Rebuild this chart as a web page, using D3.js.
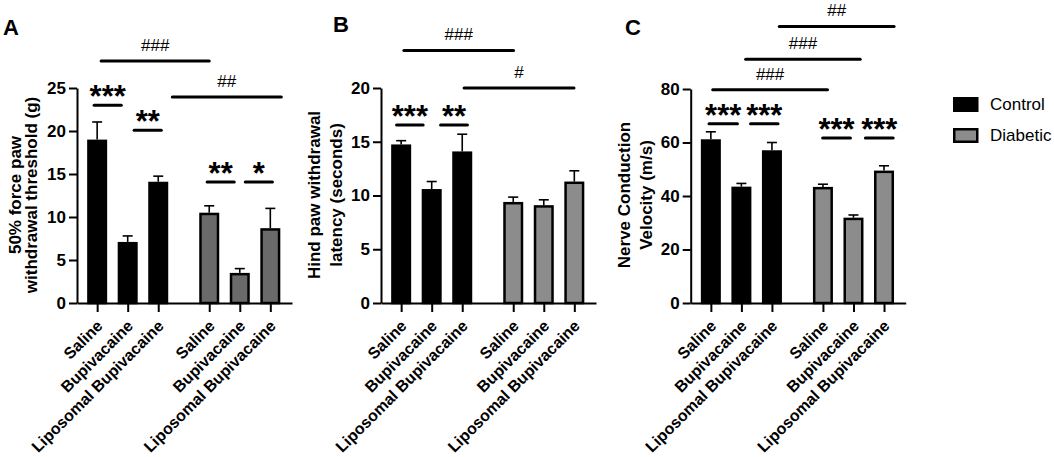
<!DOCTYPE html>
<html>
<head>
<meta charset="utf-8">
<script src="https://cdn.jsdelivr.net/npm/d3@7"></script>
<style>
  body { margin: 0; background: #fff; }
  text { font-family: "Liberation Sans", Arial, Helvetica, sans-serif; }
</style>
</head>
<body>
<div id="chart"></div>
<script>
// data
var groups = ["Control", "Diabetic"];
var treatments = ["Saline", "Bupivacaine", "Liposomal Bupivacaine"];
var barGroup = [0, 0, 0, 1, 1, 1];
var slots = [0, 1, 2, 3.67, 4.67, 5.67];

var thresholdMean = [19.0, 7.1, 14.1, 10.5, 3.5, 8.7];
var thresholdSem = [2.05, 0.7, 0.65, 0.8, 0.5, 2.3];
var latencyMean = [14.75, 10.6, 14.1, 9.4, 9.1, 11.3];
var latencySem = [0.35, 0.7, 1.6, 0.45, 0.5, 1.0];
var ncvMean = [61.2, 43.5, 57.1, 43.4, 31.9, 49.5];
var ncvSem = [2.8, 1.2, 2.9, 1.0, 1.0, 1.8];

var ticksA = [0, 5, 10, 15, 20, 25];
var ticksB = [0, 5, 10, 15, 20];
var ticksC = [0, 20, 40, 60, 80];

// significance marks: label, start/end slot, height in data units
var sigA = [
    {label: "***", x1: -0.1, x2: 0.79, level: 23.0},
    {label: "**", x1: 1.21, x2: 2.1, level: 20.1},
    {label: "**", x1: 3.6, x2: 4.49, level: 14.07},
    {label: "*", x1: 4.85, x2: 5.74, level: 14.07},
    {label: "###", x1: 0.13, x2: 3.67, level: 28.14},
    {label: "##", x1: 2.46, x2: 6.03, level: 23.95}
];
var sigB = [
    {label: "***", x1: -0.15, x2: 0.72, level: 16.56},
    {label: "**", x1: 1.29, x2: 2.17, level: 16.56},
    {label: "###", x1: 0.09, x2: 3.68, level: 23.5},
    {label: "#", x1: 2.06, x2: 5.66, level: 20.0}
];
var sigC = [
    {label: "***", x1: -0.06, x2: 0.87, level: 67.0},
    {label: "***", x1: 1.3, x2: 2.2, level: 67.0},
    {label: "***", x1: 3.66, x2: 4.57, level: 61.7},
    {label: "***", x1: 5.06, x2: 5.97, level: 61.7},
    {label: "###", x1: 0.06, x2: 3.82, level: 79.7},
    {label: "###", x1: 1.14, x2: 4.89, level: 91.1},
    {label: "##", x1: 2.24, x2: 6.0, level: 103.4}
];

var svg = d3.select("#chart")
    .append("svg")
    .attr("width", 1054)
    .attr("height", 457);

svg.append("rect").attr("width", 1054).attr("height", 457).style("fill", "#fff");

function drawPanel(p) {
    var xScale = d3.scaleLinear().domain([-0.66, 6.38]).range([p.left, p.left + 215]);
    var yScale = d3.scaleLinear().domain([0, p.max]).range([303, p.top]);

    // panel letter
    svg.append("text")
        .attr("x", p.letterX).attr("y", p.letterY)
        .style("font-size", "22px").style("font-weight", "bold")
        .text(p.letter);

    // y label, two lines
    p.ylabel.forEach(function(t, i) {
        svg.append("text")
            .attr("text-anchor", "middle")
            .attr("transform", "translate(" + p.ylabelX[i] + ",195)rotate(-90)")
            .style("font-size", "17px").style("font-weight", "bold")
            .text(t);
    });

    // bars
    svg.append("g").selectAll("rect")
        .data(p.mean)
        .enter()
        .append("rect")
        .attr("x", function(d, i) { return xScale(slots[i]) - 8.75; })
        .attr("y", function(d) { return yScale(d) + 1.25; })
        .attr("width", 17.5)
        .attr("height", function(d) { return yScale(0) - yScale(d) - 1.25; })
        .style("fill", function(d, i) { return barGroup[i] == 0 ? "#000" : p.gray; })
        .style("stroke", "#000")
        .style("stroke-width", 2.5);

    // error bars
    var err = svg.append("g").style("stroke", "#000").style("stroke-width", 1.6);
    p.mean.forEach(function(m, i) {
        var cx = xScale(slots[i]);
        err.append("line")
            .attr("x1", cx).attr("x2", cx)
            .attr("y1", yScale(m)).attr("y2", yScale(m + p.sem[i]));
        err.append("line")
            .attr("x1", cx - 5).attr("x2", cx + 5)
            .attr("y1", yScale(m + p.sem[i])).attr("y2", yScale(m + p.sem[i]));
    });

    // axes
    var yAxis = svg.append("g")
        .attr("transform", "translate(" + p.left + ",0)")
        .call(d3.axisLeft(yScale).tickValues(p.ticks).tickSize(8).tickSizeOuter(0).tickPadding(3));
    var xAxis = svg.append("g")
        .attr("transform", "translate(0," + yScale(0) + ")")
        .call(d3.axisBottom(xScale).tickValues(slots).tickSize(9).tickSizeOuter(0)
            .tickFormat(function(d, i) { return treatments[i % 3]; }));

    [yAxis, xAxis].forEach(function(a) {
        a.selectAll("path, line").style("stroke", "#000").style("stroke-width", 2);
        a.selectAll("text")
            .style("font-family", "'Liberation Sans', Arial, sans-serif")
            .style("font-weight", "bold").style("fill", "#000");
    });
    yAxis.selectAll("text").style("font-size", "17px");
    xAxis.selectAll("text")
        .style("font-size", "16px")
        .attr("text-anchor", "end")
        .attr("x", 0).attr("y", 0).attr("dy", "0.35em")
        .attr("transform", "translate(2,20)rotate(-45)");

    // significance
    p.sig.forEach(function(s) {
        var ly = yScale(s.level);
        var x1 = xScale(s.x1), x2 = xScale(s.x2);
        svg.append("line")
            .attr("x1", x1).attr("x2", x2).attr("y1", ly).attr("y2", ly)
            .style("stroke", "#000").style("stroke-width", 3).style("stroke-linecap", "round");
        var star = s.label.charAt(0) == "*";
        svg.append("text")
            .attr("x", (x1 + x2) / 2)
            .attr("y", star ? ly + 2 : ly - 10)
            .attr("text-anchor", "middle")
            .style("font-size", star ? "31px" : "17px")
            .style("font-weight", star ? "bold" : "normal")
            .text(s.label);
    });
}

drawPanel({letter: "A", letterX: 3, letterY: 35, left: 77, top: 88, max: 25, ticks: ticksA,
    mean: thresholdMean, sem: thresholdSem, sig: sigA, gray: "#6a6a6a",
    ylabel: ["50% force paw", "withdrawal threshold (g)"], ylabelX: [20.5, 37]});
drawPanel({letter: "B", letterX: 333, letterY: 32, left: 381, top: 88, max: 20, ticks: ticksB,
    mean: latencyMean, sem: latencySem, sig: sigB, gray: "#8c8c8c",
    ylabel: ["Hind paw withdrawal", "latency  (seconds)"], ylabelX: [319.5, 341.5]});
drawPanel({letter: "C", letterX: 625, letterY: 35, left: 690.7, top: 89, max: 80, ticks: ticksC,
    mean: ncvMean, sem: ncvSem, sig: sigC, gray: "#8c8c8c",
    ylabel: ["Nerve Conduction", "Velocity (m/s)"], ylabelX: [630, 651.5]});

// legend
var legendColors = ["#000", "#8c8c8c"];
var legend = svg.append("g").selectAll("g")
    .data(groups)
    .enter()
    .append("g")
    .attr("transform", function(d, i) { return "translate(953," + (97 + i * 31) + ")"; });
legend.append("rect")
    .attr("x", 1.25).attr("y", 1.25).attr("width", 23).attr("height", 12.5)
    .style("fill", function(d, i) { return legendColors[i]; })
    .style("stroke", "#000").style("stroke-width", 2.5);
legend.append("text")
    .attr("x", 37).attr("y", 7.5).attr("dy", "0.35em")
    .style("font-size", "17px")
    .text(function(d) { return d; });
</script>
</body>
</html>
